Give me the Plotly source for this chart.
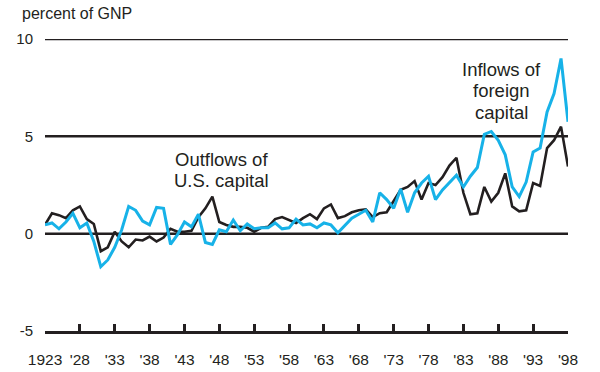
import plotly.graph_objects as go

years = list(range(1923, 1999))

outflows_us = [0.45, 1.05, 0.95, 0.8, 1.2, 1.4, 0.75, 0.5, -0.9, -0.7,
               0.1, -0.4, -0.7, -0.3, -0.35, -0.15, -0.4, -0.2, 0.25, 0.1,
               0.1, 0.15, 0.85, 1.3, 1.9, 0.6, 0.45, 0.35, 0.35, 0.3,
               0.1, 0.3, 0.35, 0.75, 0.85, 0.7, 0.55, 0.8, 1.0, 0.75,
               1.3, 1.5, 0.8, 0.9, 1.1, 1.2, 1.25, 0.85, 1.05, 1.1,
               1.7, 2.25, 2.4, 2.7, 1.75, 2.6, 2.5, 2.9, 3.5, 3.9,
               2.1, 1.0, 1.05, 2.4, 1.65, 2.1, 3.1, 1.4, 1.15, 1.2,
               2.6, 2.45, 4.4, 4.8, 5.5, 3.45]

inflows_foreign = [0.45, 0.55, 0.25, 0.6, 1.05, 0.3, 0.55, -0.4, -1.7, -1.35,
                   -0.7, 0.2, 1.4, 1.2, 0.65, 0.45, 1.35, 1.3, -0.55, -0.05,
                   0.6, 0.35, 1.0, -0.45, -0.55, 0.2, 0.1, 0.7, 0.15, 0.5,
                   0.25, 0.3, 0.3, 0.55, 0.25, 0.3, 0.75, 0.45, 0.5, 0.3,
                   0.55, 0.45, 0.05, 0.4, 0.8, 1.0, 1.2, 0.6, 2.1, 1.75,
                   1.3, 2.3, 1.1, 2.1, 2.6, 2.95, 1.75, 2.25, 2.65, 3.0,
                   2.4, 2.95, 3.4, 5.1, 5.25, 4.8, 4.05, 2.4, 1.9, 2.65,
                   4.2, 4.4, 6.25, 7.2, 9.0, 5.75]

x_tick_vals = [1923, 1928, 1933, 1938, 1943, 1948, 1953, 1958, 1963, 1968,
               1973, 1978, 1983, 1988, 1993, 1998]
x_tick_text = ["1923", "'28", "'33", "'38", "'43", "'48", "'53", "'58", "'63",
               "'68", "'73", "'78", "'83", "'88", "'93", "'98"]
y_tick_vals = [-5, 0, 5, 10]
y_tick_text = ["-5", "0", "5", "10"]
rule_levels = [10, 5, 0]

BLACK = "#231f20"
BLUE = "#17b2e8"
FONT = "Liberation Sans, Arial, sans-serif"

fig = go.Figure()
for lv in rule_levels:
    fig.add_shape(type="line", xref="paper", yref="y", x0=0, x1=1, y0=lv, y1=lv,
                  line=dict(color=BLACK, width=2.5), layer="below")

fig.add_trace(go.Scatter(x=years, y=outflows_us, mode="lines",
                         line=dict(color=BLACK, width=2.6), name="Outflows of U.S. capital"))
fig.add_trace(go.Scatter(x=years, y=inflows_foreign, mode="lines",
                         line=dict(color=BLUE, width=3), name="Inflows of foreign capital"))

ann = dict(showarrow=False, font=dict(family=FONT, size=18.5, color=BLACK),
           xref="x", yref="y", xanchor="center", yanchor="middle")
fig.add_annotation(text="Outflows of", x=1948.3, y=3.8, **ann)
fig.add_annotation(text="U.S. capital", x=1948.3, y=2.75, **ann)
fig.add_annotation(text="Inflows of", x=1988.4, y=8.45, **ann)
fig.add_annotation(text="foreign", x=1988.4, y=7.35, **ann)
fig.add_annotation(text="capital", x=1988.4, y=6.25, **ann)
fig.add_annotation(text="percent of GNP", xref="paper", yref="paper",
                   x=-0.048, y=1.086, xanchor="left", yanchor="middle",
                   showarrow=False, font=dict(family=FONT, size=16, color=BLACK))

fig.update_layout(
    width=600, height=372,
    margin=dict(l=45, r=32, t=39, b=41, autoexpand=False),
    paper_bgcolor="white", plot_bgcolor="white",
    showlegend=False,
    font=dict(family=FONT, color=BLACK),
)
fig.update_xaxes(range=[1923, 1998], tickvals=x_tick_vals, ticktext=x_tick_text,
                 showgrid=False, zeroline=False, automargin=False,
                 showline=True, linecolor=BLACK, linewidth=3,
                 ticks="inside", ticklen=7, tickwidth=2.5, tickcolor=BLACK,
                 ticklabelstandoff=12,
                 tickfont=dict(family=FONT, size=15.5, color=BLACK))
fig.update_yaxes(range=[-5, 10], tickvals=y_tick_vals, ticktext=y_tick_text,
                 showgrid=False, zeroline=False, showline=False, automargin=False,
                 ticks="outside", ticklen=8, tickcolor="rgba(0,0,0,0)",
                 tickfont=dict(family=FONT, size=15, color=BLACK))

fig.write_html("out.html",
               config={"displayModeBar": False},
               post_script="document.body.style.margin='0';document.body.style.padding='0';")
